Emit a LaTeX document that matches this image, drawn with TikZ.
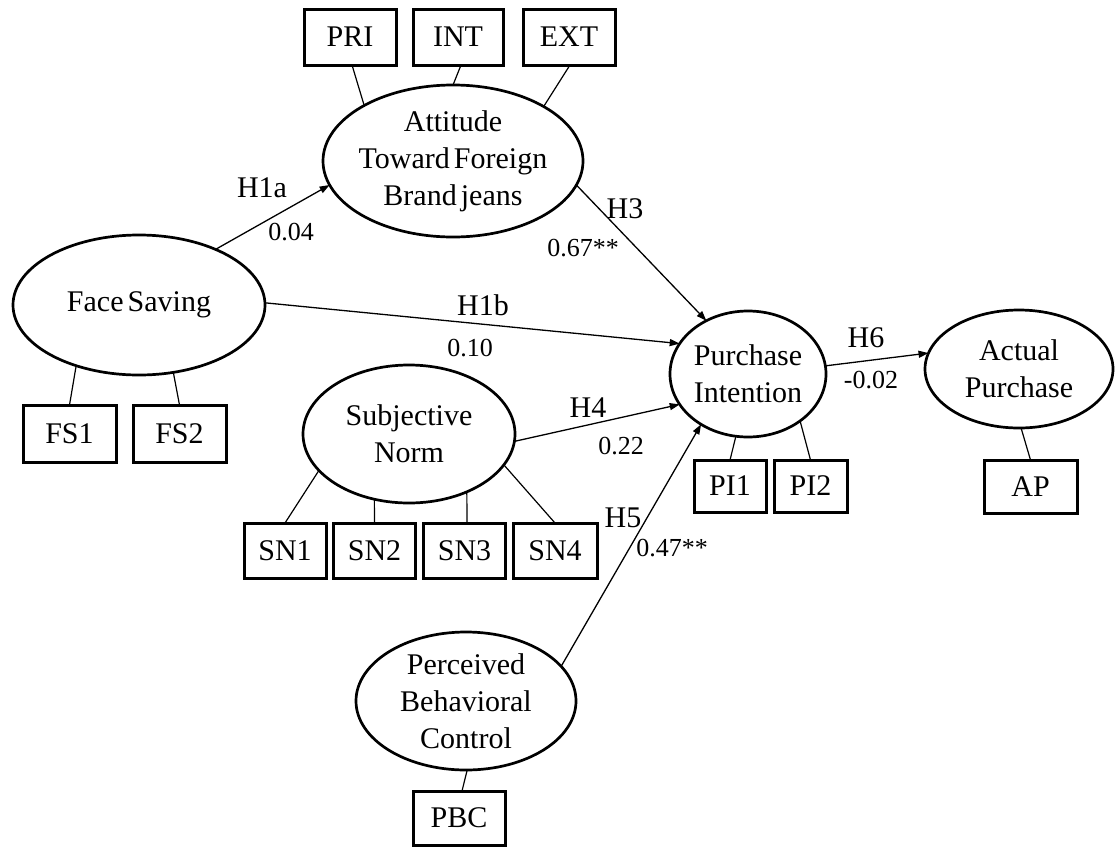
\documentclass[tikz,border=0pt]{standalone}
\usepackage{fontspec}
\setmainfont{Liberation Serif}[WordSpace=0.55]
\usetikzlibrary{shapes.geometric,arrows.meta}
\begin{document}
\begin{tikzpicture}[x=1pt,y=-1pt,
  latent/.style={ellipse, draw, line width=2.7pt, inner sep=0pt, outer sep=0pt},
  latext/.style={align=center, font=\fontsize{30}{37}\selectfont, inner sep=0pt},
  ind/.style={rectangle, draw, line width=3pt, inner sep=0pt, outer sep=0pt,
              font=\fontsize{30}{36}\selectfont},
  load/.style={line width=1.2pt},
  hpath/.style={line width=1.3pt, -{Triangle[length=10pt,width=7pt]}},
  hyp/.style={font=\fontsize{30}{36}\selectfont, inner sep=0pt},
  coef/.style={font=\fontsize{26}{30}\selectfont, inner sep=0pt}]

\useasboundingbox (0,0) rectangle (1115,846);

% latent constructs
\node[latent, minimum width=260pt, minimum height=152pt,
      label={[latext, name=attT]center:Attitude\\Toward Foreign\\Brand jeans}] (att) at (453,161) {};
\node[latent, minimum width=252pt, minimum height=140pt,
      label={[latext, name=fsT]center:Face Saving}] (fs) at (139,305) {};
\node[latent, minimum width=212pt, minimum height=138pt,
      label={[latext, name=snT]center:Subjective\\Norm}] (sn) at (409,434) {};
\node[latent, minimum width=220pt, minimum height=138pt,
      label={[latext, name=pbcT]center:Perceived\\Behavioral\\Control}] (pbc) at (466,701) {};
\node[latent, minimum width=156pt, minimum height=126pt,
      label={[latext, name=piT]center:Purchase\\Intention}] (pi) at (748,374) {};
\node[latent, minimum width=188pt, minimum height=118pt,
      label={[latext, name=apT]center:Actual\\Purchase}] (ap) at (1019,369) {};

% indicators
\node[ind, minimum width=92pt, minimum height=56pt] (pri) at (350,37) {PRI};
\node[ind, minimum width=90pt, minimum height=56pt] (int) at (458,37) {INT};
\node[ind, minimum width=92pt, minimum height=56pt] (ext) at (569,37) {EXT};
\node[ind, minimum width=93pt, minimum height=57pt] (fs1) at (69.5,433.5) {FS1};
\node[ind, minimum width=93pt, minimum height=57pt] (fs2) at (179.5,433.5) {FS2};
\node[ind, minimum width=82pt, minimum height=55pt] (sn1) at (285,550.5) {SN1};
\node[ind, minimum width=82pt, minimum height=55pt] (sn2) at (374.5,550.5) {SN2};
\node[ind, minimum width=82pt, minimum height=55pt] (sn3) at (464.5,550.5) {SN3};
\node[ind, minimum width=84pt, minimum height=55pt] (sn4) at (555,550.5) {SN4};
\node[ind, minimum width=72pt, minimum height=52pt] (pi1) at (730,486) {PI1};
\node[ind, minimum width=73pt, minimum height=52pt] (pi2) at (810.5,486) {PI2};
\node[ind, minimum width=93pt, minimum height=53pt] (apbox) at (1030.5,486.5) {AP};
\node[ind, minimum width=92pt, minimum height=54pt] (pbcbox) at (459,818) {PBC};

% loadings
\draw[load] ([xshift=2pt]pri.south) -- (att.148.9);
\draw[load] ([xshift=3pt]int.south) -- (att.north);
\draw[load] ([xshift=1pt]ext.south) -- (att.31.7);
\draw[load] (fs.224.5) -- (fs1.north);
\draw[load] (fs.297) -- (fs2.north);
\draw[load] (sn.202.5) -- (sn1.north);
\draw[load] (sn.242.5) -- (sn2.north);
\draw[load] (sn.315.1) -- ([xshift=2.5pt]sn3.north);
\draw[load] (sn.342.6) -- (sn4.north);
\draw[load] (pi.259) -- (pi1.north);
\draw[load] (pi.318.3) -- (pi2.north);
\draw[load] (ap.272) -- (apbox.north);
\draw[load] (pbc.271) -- ([xshift=3pt]pbcbox.north);

% structural paths
\draw[hpath] (fs.36.2) -- (att.191.5);
\draw[hpath] (att.349.9) -- (pi.128.5);
\draw[hpath] (fs.1.8) -- (pi.156.9);
\draw[hpath] (sn.356.8) -- (pi.204.3);
\draw[hpath] (pbc.20.6) -- (pi.227.7);
\draw[hpath] (pi.6.4) -- (ap.170.5);

% hypotheses and coefficients
\node[hyp] (h1a) at (262,188) {H1a};
\node[coef] (c1a) at (291,232) {0.04};
\node[hyp] (h1b) at (483,305) {H1b};
\node[coef] (c1b) at (470,348) {0.10};
\node[hyp] (h3) at (625,209) {H3};
\node[coef] (c3) at (583,248) {0.67**};
\node[hyp] (h4) at (588,408) {H4};
\node[coef] (c4) at (621,446) {0.22};
\node[hyp] (h5) at (623,518) {H5};
\node[coef] (c5) at (672,548) {0.47**};
\node[hyp] (h6) at (866,338) {H6};
\node[coef] (c6) at (871,380) {-0.02};
\end{tikzpicture}
\end{document}
